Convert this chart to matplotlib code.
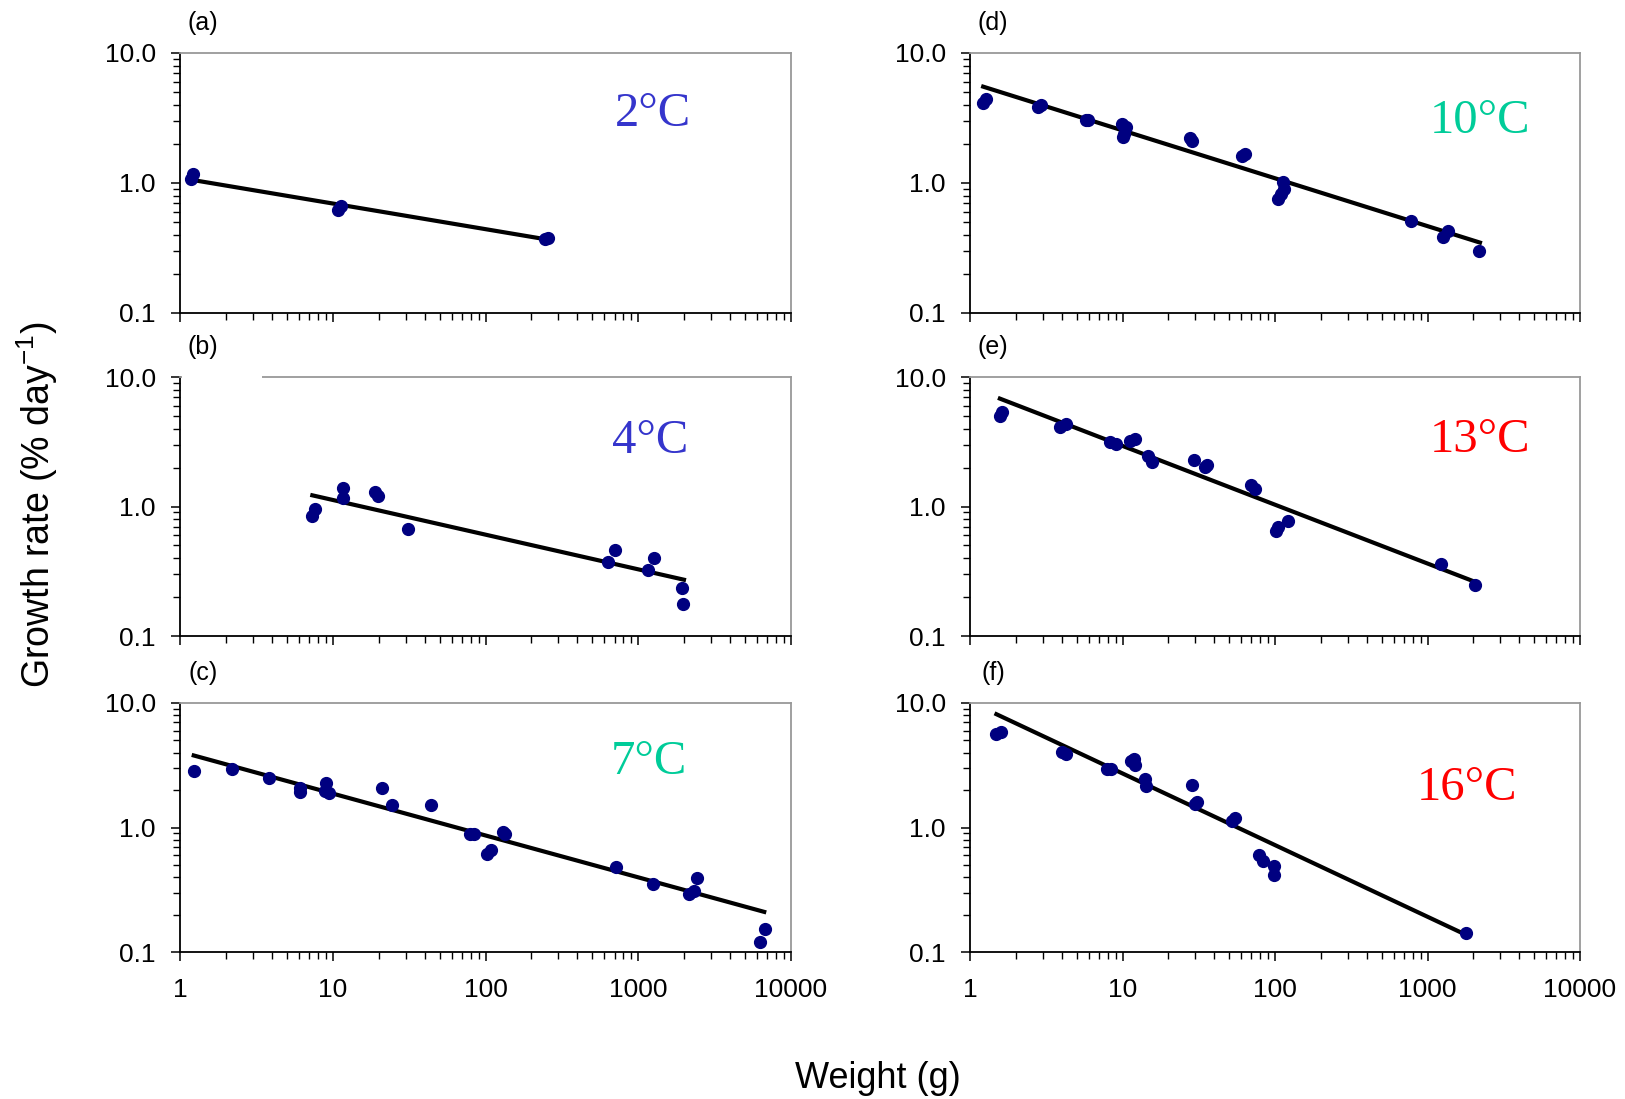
import matplotlib
matplotlib.use("Agg")
import matplotlib.pyplot as plt
from matplotlib.patches import Rectangle
from matplotlib.ticker import LogLocator, FixedLocator, FixedFormatter, NullFormatter

plt.rcParams["font.family"] = ["Liberation Sans", "DejaVu Sans"]

# (a) 2 C
w_a = [1.18, 1.21, 10.9, 11.3, 245, 255]
g_a = [1.07, 1.17, 0.615, 0.671, 0.373, 0.38]
fit_a_w = [1.18, 245]
fit_a_g = [1.06, 0.37]

# (b) 4 C
w_b = [7.35, 7.6, 11.6, 11.6, 18.9, 19.7, 31.0, 630, 706, 1159, 1264, 1928, 1967]
g_b = [0.839, 0.949, 1.38, 1.16, 1.30, 1.21, 0.671, 0.375, 0.464, 0.324, 0.398, 0.235, 0.178]
fit_b_w = [7.35, 1992]
fit_b_g = [1.22, 0.272]

# (c) 7 C
w_c = [1.23, 2.18, 3.81, 6.07, 6.07, 9.09, 8.9, 9.4, 21.1, 24.4, 44.1, 79.2, 83.7,
       103, 108, 130, 135, 720, 1256, 2133, 2317, 2415, 6225, 6727]
g_c = [2.85, 2.94, 2.52, 2.08, 1.93, 2.26, 1.97, 1.90, 2.06, 1.52, 1.53, 0.884, 0.884,
       0.618, 0.658, 0.917, 0.884, 0.48, 0.353, 0.29, 0.31, 0.392, 0.121, 0.152]
fit_c_w = [1.23, 6680]
fit_c_g = [3.79, 0.21]

# (d) 10 C
w_d = [1.22, 1.28, 2.79, 2.91, 5.73, 5.98, 9.9, 10.5, 10.0, 10.3, 27.8, 28.6, 61, 64,
       105, 110, 115, 113, 781, 1258, 1361, 2178]
g_d = [4.16, 4.46, 3.81, 3.97, 3.07, 3.03, 2.82, 2.68, 2.27, 2.38, 2.21, 2.09, 1.60, 1.66,
       0.759, 0.829, 0.905, 1.02, 0.512, 0.384, 0.427, 0.30]
fit_d_w = [1.22, 2208]
fit_d_g = [5.51, 0.348]

# (e) 13 C
w_e = [1.57, 1.62, 3.92, 4.27, 8.27, 9.07, 11.2, 12.05, 14.7, 15.5, 29.3, 34.5, 36.0,
       69.3, 73.4, 102, 105, 122, 1218, 2047]
g_e = [4.99, 5.39, 4.14, 4.31, 3.14, 3.03, 3.23, 3.33, 2.47, 2.21, 2.27, 2.01, 2.11,
       1.46, 1.37, 0.648, 0.691, 0.768, 0.362, 0.248]
fit_e_w = [1.57, 2092]
fit_e_g = [6.81, 0.2595]

# (f) 16 C
w_f = [1.49, 1.59, 4.02, 4.23, 7.97, 8.45, 11.4, 11.9, 12.0, 14.0, 14.3, 28.7, 30.0, 30.6,
       52.6, 54.6, 78.3, 83.5, 97.9, 97.9, 1800]
g_f = [5.67, 5.89, 4.06, 3.91, 2.96, 2.96, 3.41, 3.54, 3.17, 2.47, 2.14, 2.21, 1.55, 1.60,
       1.12, 1.20, 0.60, 0.538, 0.493, 0.415, 0.142]
fit_f_w = [1.49, 1774]
fit_f_g = [8.13, 0.138]

panel_tags = ["(a)", "(b)", "(c)", "(d)", "(e)", "(f)"]
temp_labels = ["2°C", "4°C", "7°C", "10°C", "13°C", "16°C"]
temp_colors = ["#3535CC", "#3535CC", "#00CC99", "#00CC99", "#FF0000", "#FF0000"]
x_ticks = [1, 10, 100, 1000, 10000]
x_ticklabels = ["1", "10", "100", "1000", "10000"]
y_ticks = [0.1, 1, 10]
y_ticklabels = ["0.1", "1.0", "10.0"]

points = [(w_a, g_a), (w_b, g_b), (w_c, g_c), (w_d, g_d), (w_e, g_e), (w_f, g_f)]
fits = [(fit_a_w, fit_a_g), (fit_b_w, fit_b_g), (fit_c_w, fit_c_g),
        (fit_d_w, fit_d_g), (fit_e_w, fit_e_g), (fit_f_w, fit_f_g)]

W, H = 1625, 1099
fig = plt.figure(figsize=(W / 100, H / 100), dpi=100)

# axes boxes in pixels: left, top, right, bottom
boxes = [(180, 53, 791, 313), (180, 377, 791, 636), (180, 703, 791, 952),
         (970, 53, 1580, 313), (970, 377, 1580, 636), (970, 703, 1580, 952)]
temp_pos = [(0.774, 0.765), (0.770, 0.753), (0.768, 0.763),
            (0.836, 0.738), (0.836, 0.757), (0.815, 0.659)]

for i in range(6):
    l, t, r, b = boxes[i]
    ax = fig.add_axes([l / W, 1 - b / H, (r - l) / W, (b - t) / H])
    ax.set_xscale("log")
    ax.set_yscale("log")
    ax.set_xlim(1, 10000)
    ax.set_ylim(0.1, 10)

    fw, fg = fits[i]
    ax.plot(fw, fg, color="black", lw=3, zorder=2)
    px, py = points[i]
    ax.plot(px, py, "o", color="#000080", ms=8.5, mec="#000080", zorder=3)

    for s in ["top", "right"]:
        ax.spines[s].set_color("#999999")
        ax.spines[s].set_linewidth(1.3)
    for s in ["left", "bottom"]:
        ax.spines[s].set_color("black")
        ax.spines[s].set_linewidth(1.3)

    ax.xaxis.set_major_locator(FixedLocator(x_ticks))
    ax.xaxis.set_minor_locator(LogLocator(base=10, subs=range(2, 10)))
    ax.yaxis.set_major_locator(FixedLocator(y_ticks))
    ax.yaxis.set_minor_locator(LogLocator(base=10, subs=range(2, 10)))
    ax.yaxis.set_major_formatter(FixedFormatter(y_ticklabels))
    ax.yaxis.set_minor_formatter(NullFormatter())
    ax.xaxis.set_minor_formatter(NullFormatter())
    if i in (2, 5):
        ax.xaxis.set_major_formatter(FixedFormatter(x_ticklabels))
    else:
        ax.xaxis.set_major_formatter(NullFormatter())
    ax.tick_params(which="major", direction="out", length=6.5, width=1.1,
                   labelsize=19, pad=11)
    ax.tick_params(which="minor", direction="out", length=5, width=1.0)
    ax.tick_params(axis="x", which="major", pad=12)

    ax.text(23 / (r - l), 1 + 30 / (b - t), panel_tags[i], transform=ax.transAxes,
            ha="center", va="center", fontsize=18)
    tx, ty = temp_pos[i]
    ax.text(tx, ty, temp_labels[i], transform=ax.transAxes, ha="center", va="center",
            fontsize=35, color=temp_colors[i], family=["Liberation Serif", "DejaVu Serif"])

    # panel (b): the top border is broken behind its tag
    if i == 1:
        ax.add_patch(Rectangle((0.004, 0.985), 0.13, 0.04, transform=ax.transAxes,
                               facecolor="white", edgecolor="none", clip_on=False, zorder=5))

fig.text(37 / W, 1 - 505 / H, "Growth rate (% day$^{\\mathregular{-1}}$)", rotation=90,
         ha="center", va="center", fontsize=27)
fig.text(878 / W, 1 - 1078 / H, "Weight (g)", ha="center", va="center", fontsize=26)

fig.savefig("out.png", dpi=100)
